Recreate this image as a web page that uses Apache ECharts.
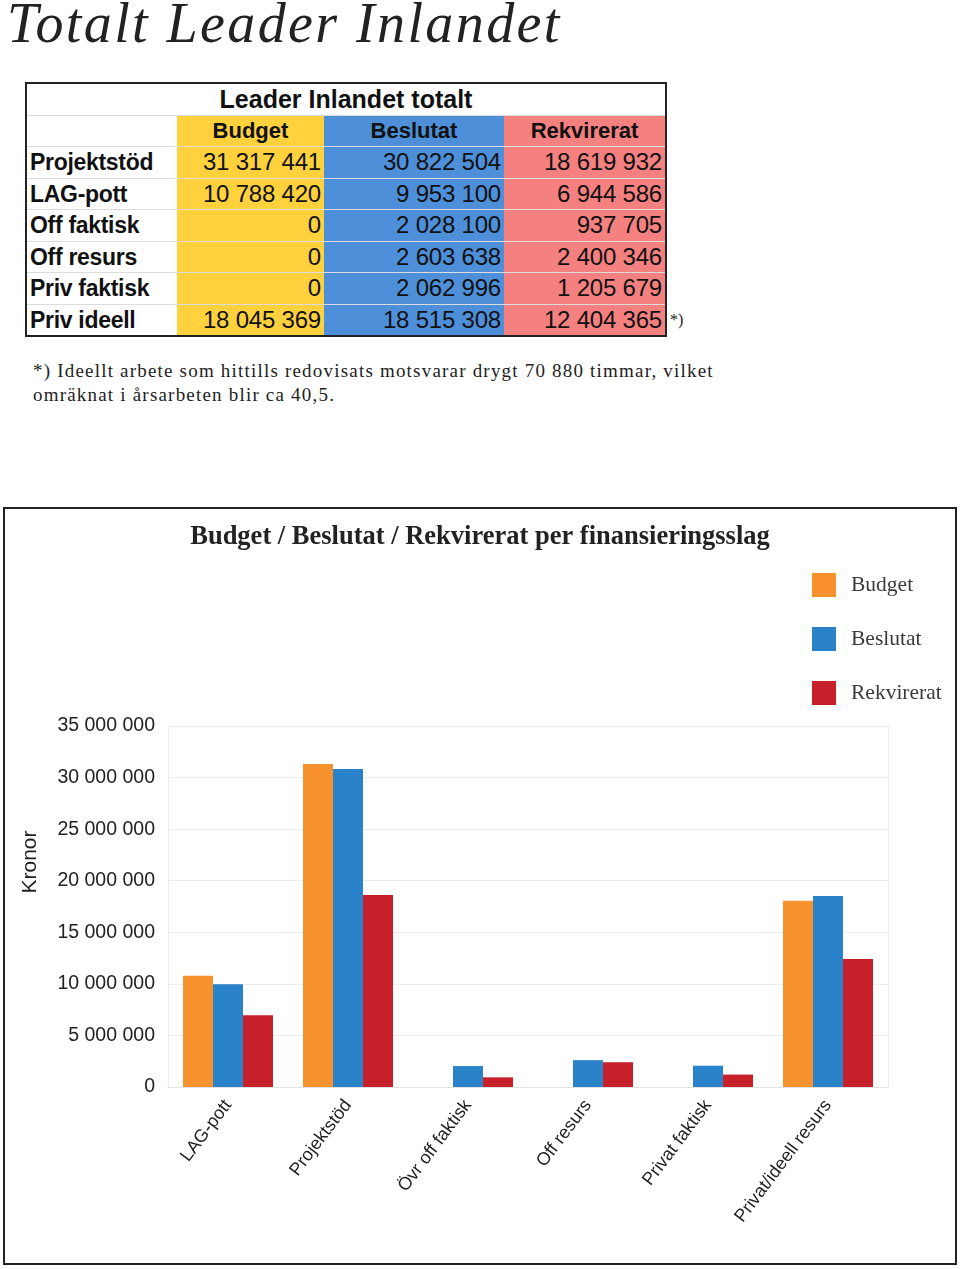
<!DOCTYPE html>
<html>
<head>
<meta charset="utf-8">
<script src="https://cdn.jsdelivr.net/npm/echarts@6.0.0/dist/echarts.min.js"></script>
<style>
  html, body { margin: 0; padding: 0; background: #fff; }
  body { position: relative; width: 960px; height: 1269px; overflow: hidden; }
  #pageTitle { position: absolute; left: 7px; top: -5px; font-family: "Liberation Serif", serif; font-style: italic; font-size: 56px; line-height: 56px; letter-spacing: 2.4px; color: #222; white-space: nowrap; }
  #tbl { position: absolute; left: 25px; top: 82px; width: 640px; border-collapse: collapse; border: 2px solid #222; font-family: "Liberation Sans", Arial, sans-serif; color: #111; table-layout: fixed; }
  #tbl td { padding: 0 3px; height: 31.5px; line-height: 30px; border-bottom: 1px solid #dcdcdc; white-space: nowrap; overflow: hidden; box-sizing: border-box; }
  #tbl td.lab { font-weight: bold; font-size: 23px; letter-spacing: -0.3px; }
  #tbl td.num { font-size: 24px; text-align: right; letter-spacing: -0.2px; }
  #tbl td.hd { font-weight: bold; font-size: 22px; text-align: center; }
  #tbl td.top { font-weight: bold; font-size: 25px; text-align: center; height: 32px; }
  .cB { background: #ffd23d; }
  .cS { background: #4d8fd8; }
  .cR { background: #f58080; }
  #star { position: absolute; left: 670px; top: 311px; font-family: "Liberation Serif", serif; font-size: 16px; color: #222; }
  #note { position: absolute; left: 33px; top: 359px; width: 800px; font-family: "Liberation Serif", serif; font-size: 19px; line-height: 24px; letter-spacing: 1.2px; color: #222; white-space: nowrap; }
  #chartBox { position: absolute; left: 3px; top: 507px; width: 954px; height: 758px; border: 2px solid #222; box-sizing: border-box; }
  #chart { position: absolute; left: 0; top: 0; width: 950px; height: 754px; }
</style>
</head>
<body>
<div id="pageTitle">Totalt Leader Inlandet</div>
<table id="tbl"></table>
<div id="star">*)</div>
<div id="note">*) Ideellt arbete som hittills redovisats motsvarar drygt 70 880 timmar, vilket<br>omräknat i årsarbeten blir ca 40,5.</div>
<div id="chartBox"><div id="chart"></div></div>
<script>
// ---- Data ----
var tableTitle = 'Leader Inlandet totalt';
var seriesNames = ['Budget', 'Beslutat', 'Rekvirerat'];
var tableRows = ['Projektstöd', 'LAG-pott', 'Off faktisk', 'Off resurs', 'Priv faktisk', 'Priv ideell'];
var budget     = [31317441, 10788420, 0, 0, 0, 18045369];
var beslutat   = [30822504, 9953100, 2028100, 2603638, 2062996, 18515308];
var rekvirerat = [18619932, 6944586, 937705, 2400346, 1205679, 12404365];

var chartTitle = 'Budget / Beslutat / Rekvirerat per finansieringsslag';
var chartCategories = ['LAG-pott', 'Projektstöd', 'Övr off faktisk', 'Off resurs', 'Privat faktisk', 'Privat/ideell resurs'];
var chartRowIndex = [1, 0, 2, 3, 4, 5]; // which table row each chart category comes from
var yAxisName = 'Kronor';
var yMin = 0, yMax = 35000000, yStep = 5000000;

function fmt(n) { return String(n).replace(/\B(?=(\d{3})+(?!\d))/g, ' '); }

// ---- Table ----
var cols = [budget, beslutat, rekvirerat];
var cls = ['cB', 'cS', 'cR'];
var html = '<colgroup><col style="width:151px"><col style="width:147px"><col style="width:180px"><col style="width:162px"></colgroup>';
html += '<tr><td class="top" colspan="4">' + tableTitle + '</td></tr>';
html += '<tr><td class="lab"></td>';
for (var c = 0; c < 3; c++) html += '<td class="hd ' + cls[c] + '">' + seriesNames[c] + '</td>';
html += '</tr>';
for (var r = 0; r < tableRows.length; r++) {
  html += '<tr><td class="lab">' + tableRows[r] + '</td>';
  for (var c2 = 0; c2 < 3; c2++) html += '<td class="num ' + cls[c2] + '">' + fmt(cols[c2][r]) + '</td>';
  html += '</tr>';
}
document.getElementById('tbl').innerHTML = html;

// ---- Chart ----
var colors = ['#f7922f', '#2a82c9', '#c8202a'];
function pick(arr) { return chartRowIndex.map(function (i) { return arr[i]; }); }

var chart = echarts.init(document.getElementById('chart'), null, { renderer: 'canvas' });
chart.setOption({
  animation: false,
  backgroundColor: '#fff',
  title: {
    text: chartTitle,
    left: 'center',
    top: 10,
    textStyle: { fontFamily: 'Liberation Serif, serif', fontWeight: 'bold', fontSize: 26.5, color: '#222' }
  },
  legend: {
    orient: 'vertical',
    left: 807,
    top: 64,
    padding: 0,
    itemWidth: 24,
    itemHeight: 24,
    itemGap: 30,
    icon: 'rect',
    textStyle: { fontFamily: 'Liberation Serif, serif', fontSize: 21.5, color: '#3a3a3a', padding: [0, 0, 0, 10] },
    data: seriesNames
  },
  graphic: [{
    type: 'text',
    x: 25,
    y: 353,
    rotation: Math.PI / 2,
    style: { text: yAxisName, align: 'center', verticalAlign: 'middle', fontFamily: 'Liberation Sans, Arial, sans-serif', fontSize: 21, fill: '#222' }
  }],
  grid: { left: 163, top: 217, width: 720, height: 361, containLabel: false, outerBoundsMode: 'none' },
  xAxis: {
    type: 'category',
    data: chartCategories,
    axisTick: { show: false },
    axisLine: { show: true, lineStyle: { color: '#e2e2e2', width: 1 } },
    axisLabel: { interval: 0, rotate: 53, margin: 15, fontFamily: 'Liberation Sans, Arial, sans-serif', fontSize: 18, color: '#222' }
  },
  yAxis: [{
    type: 'value',
    min: yMin, max: yMax, interval: yStep,
    axisLine: { show: true, lineStyle: { color: '#ececec' } },
    axisTick: { show: false },
    splitLine: { show: true, lineStyle: { color: '#ececec' } },
    axisLabel: { margin: 13, fontFamily: 'Liberation Sans, Arial, sans-serif', fontSize: 19.5, color: '#222', formatter: function (v) { return fmt(v); } }
  }, {
    type: 'value',
    min: yMin, max: yMax, interval: yStep,
    position: 'right',
    axisLine: { show: true, lineStyle: { color: '#ececec' } },
    axisTick: { show: false },
    splitLine: { show: false },
    axisLabel: { show: false }
  }],
  series: [
    { name: seriesNames[0], type: 'bar', data: pick(budget), barWidth: 30, barGap: '0%', itemStyle: { color: colors[0] } },
    { name: seriesNames[1], type: 'bar', data: pick(beslutat), barWidth: 30, barGap: '0%', itemStyle: { color: colors[1] } },
    { name: seriesNames[2], type: 'bar', data: pick(rekvirerat), barWidth: 30, barGap: '0%', itemStyle: { color: colors[2] } }
  ]
});
</script>
</body>
</html>
